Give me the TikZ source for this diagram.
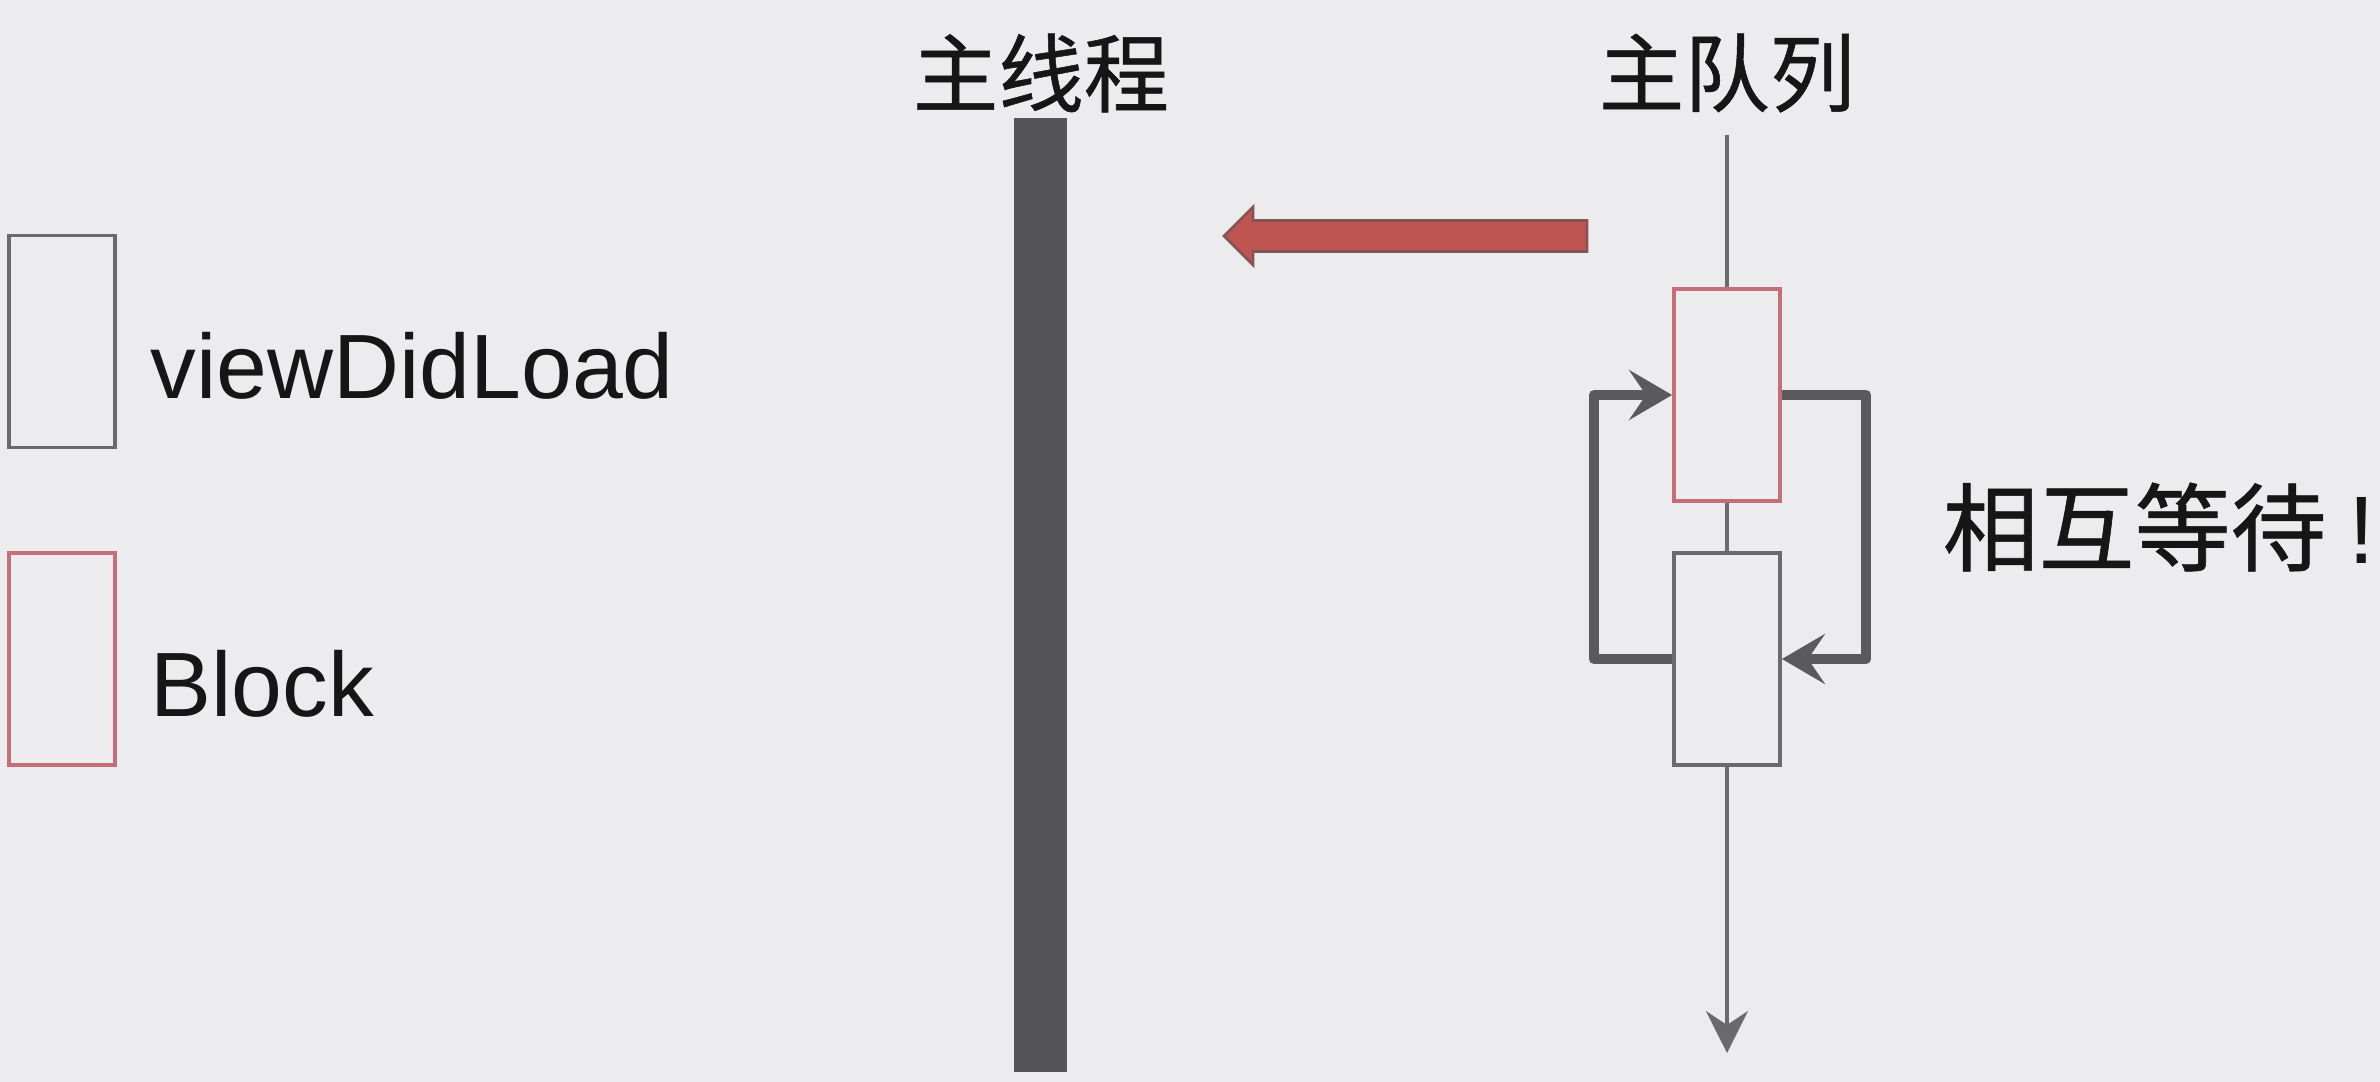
\documentclass[tikz,border=0pt]{standalone}
\usepackage{fontspec}
\setmainfont{Liberation Sans}
\newfontfamily\cjkfont[FakeBold=0.6]{Noto Sans CJK SC}
\usepackage{tikz}
\usetikzlibrary{arrows.meta,positioning,calc}

\definecolor{bgGray}{HTML}{ECECEE}
\definecolor{barGray}{HTML}{555557}
\definecolor{lineGray}{HTML}{6A6A6C}
\definecolor{loopGray}{HTML}{5A5A5C}
\definecolor{blockRed}{HTML}{C46E78}
\definecolor{arrowRed}{HTML}{BF5552}
\definecolor{inkBlack}{HTML}{161616}

\begin{document}
\begin{tikzpicture}[
  every node/.style={text=inkBlack},
  taskbox/.style={draw=lineGray, line width=1.1pt, minimum width=1.06cm,
                  minimum height=2.12cm, inner sep=0pt},
  blockbox/.style={taskbox, draw=blockRed},
  cjklabel/.style={font=\cjkfont\fontsize{24.3}{29}\selectfont, inner sep=0pt},
  legendlabel/.style={font=\fontsize{26}{31}\selectfont, anchor=base west, inner sep=0pt},
  queueline/.style={draw=lineGray, line width=0.9pt},
  waitarrow/.style={draw=loopGray, line width=2.9pt, line join=round,
                    -{Stealth[length=4.3mm, width=5mm, inset=1.7mm]}},
]

%% ── Canvas (cm, 1px = 0.01cm) ────────────────────────────────────────────────
\fill[bgGray] (0,0) rectangle (23.80,10.82);
\useasboundingbox (0,0) rectangle (23.80,10.82);

%% ── Legend ───────────────────────────────────────────────────────────────────
\node[taskbox]  (legVdl) at (0.62, 7.405) {};
\node[blockbox] (legBlk) at (0.62, 4.23) {};
\node[legendlabel] (legVdlText) at (1.50, 6.83) {viewDidLoad};
\node[legendlabel] (legBlkText) at (1.50, 3.65) {Block};

%% ── Main thread ──────────────────────────────────────────────────────────────
\node[cjklabel] (threadTitle) at (10.41, 10.09) {主线程};
\node[fill=barGray, minimum width=0.53cm, minimum height=9.54cm, inner sep=0pt]
  (thread) at (10.405, 4.87) {};

%% ── Dispatch arrow (queue -> thread) ────────────────────────────────────────
\filldraw[fill=arrowRed, draw=arrowRed!45!barGray, line width=0.8pt]
  (12.24,8.46) -- (12.53,8.75) -- (12.53,8.615) -- (15.87,8.615)
  -- (15.87,8.305) -- (12.53,8.305) -- (12.53,8.17) -- cycle;

%% ── Main queue ───────────────────────────────────────────────────────────────
\node[cjklabel] (queueTitle) at (17.27, 10.09) {主队列};
\coordinate (qTop) at (17.27, 9.47);
\coordinate (qEnd) at (17.27, 0.29);
\node[blockbox] (blk) at (17.27, 6.87) {};
\node[taskbox]  (vdl) at (17.27, 4.23) {};

\draw[queueline] (qTop) -- (blk.north);
\draw[queueline] (blk.south) -- (vdl.north);
\draw[queueline, -{Stealth[length=4.2mm, width=4.2mm, inset=1.4mm]}]
  (vdl.south) -- (qEnd);

%% ── Deadlock loop ────────────────────────────────────────────────────────────
\draw[waitarrow] (vdl.west) -- ++(-0.78,0) |- (blk.west);
\draw[waitarrow] (blk.east) -- ++(0.84,0) |- (vdl.east);

\node[cjklabel, anchor=west, font=\cjkfont\fontsize{27.3}{32}\selectfont]
  (mutualWait) at (19.42, 5.55)
  {相互等待\hspace{0.22cm}{\rmfamily !}};

\end{tikzpicture}
\end{document}
